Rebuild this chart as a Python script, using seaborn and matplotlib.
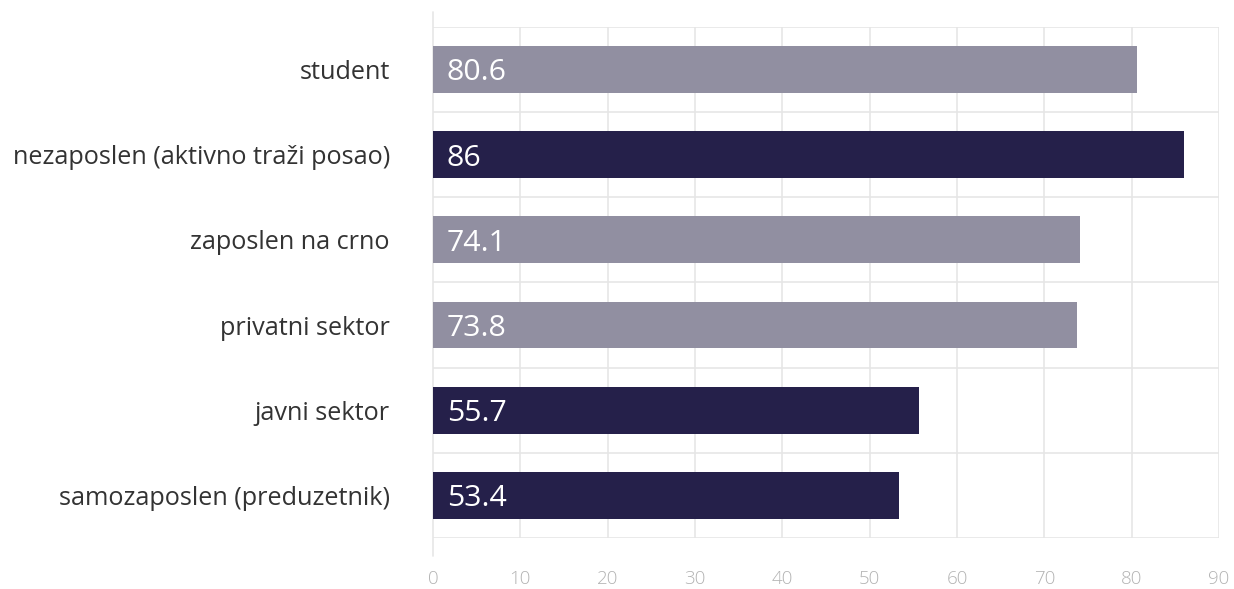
import matplotlib
matplotlib.use("Agg")
import matplotlib.pyplot as plt
import seaborn as sns
import pandas as pd

categories = [
    "student",
    "nezaposlen (aktivno traži posao)",
    "zaposlen na crno",
    "privatni sektor",
    "javni sektor",
    "samozaposlen (preduzetnik)",
]
values = [80.6, 86, 74.1, 73.8, 55.7, 53.4]
value_labels = ["80.6", "86", "74.1", "73.8", "55.7", "53.4"]
shades = ["light", "dark", "light", "light", "dark", "dark"]
x_ticks = [0, 10, 20, 30, 40, 50, 60, 70, 80, 90]

palette = {"light": "#918FA1", "dark": "#25204A"}
grid_color = "#E6E6E6"

sns.set_theme(style="white")
plt.rcParams["font.family"] = ["Open Sans", "DejaVu Sans"]

df = pd.DataFrame({"category": categories, "value": values, "shade": shades})

fig = plt.figure(figsize=(12.34, 5.89), dpi=100)
ax = fig.add_axes([0.3509, 0.0866, 0.6369, 0.8676])

sns.barplot(
    data=df, x="value", y="category", hue="shade", palette=palette,
    orient="h", width=0.55, dodge=False, legend=False, ax=ax, zorder=2,
    saturation=1, linewidth=0,
)

n = len(categories)
ax.set_xlim(0, 90)
ax.set_ylim(n - 0.5, -0.5)

# grid: vertical at each tick, horizontal at band boundaries
ax.vlines(x_ticks[1:], -0.5, n - 0.5, color=grid_color, lw=1.2, zorder=0)
ax.hlines([i - 0.5 for i in range(n + 1)], 0, 90, color=grid_color, lw=1.2, zorder=0)
for s in ax.spines.values():
    s.set_visible(False)
# left axis line reaching a bit past the plot area
ax.plot([0, 0], [-0.035, 1.03], transform=ax.transAxes, color=grid_color,
        lw=1.2, clip_on=False, zorder=1)

for i, lab in enumerate(value_labels):
    ax.text(1.6, i + 0.04, lab, color="white", fontsize=21.8, va="center",
            ha="left", zorder=3)

ax.set_xticks(x_ticks)
ax.set_xticklabels([str(t) for t in x_ticks], fontweight="light")
ax.tick_params(axis="x", length=0, pad=23, labelsize=13.5, labelcolor="#B3B3B3")
ax.tick_params(axis="y", length=0, pad=31, labelsize=18.2, labelcolor="#333333")
ax.set_xlabel("")
ax.set_ylabel("")

fig.savefig("out.png", dpi=100)
